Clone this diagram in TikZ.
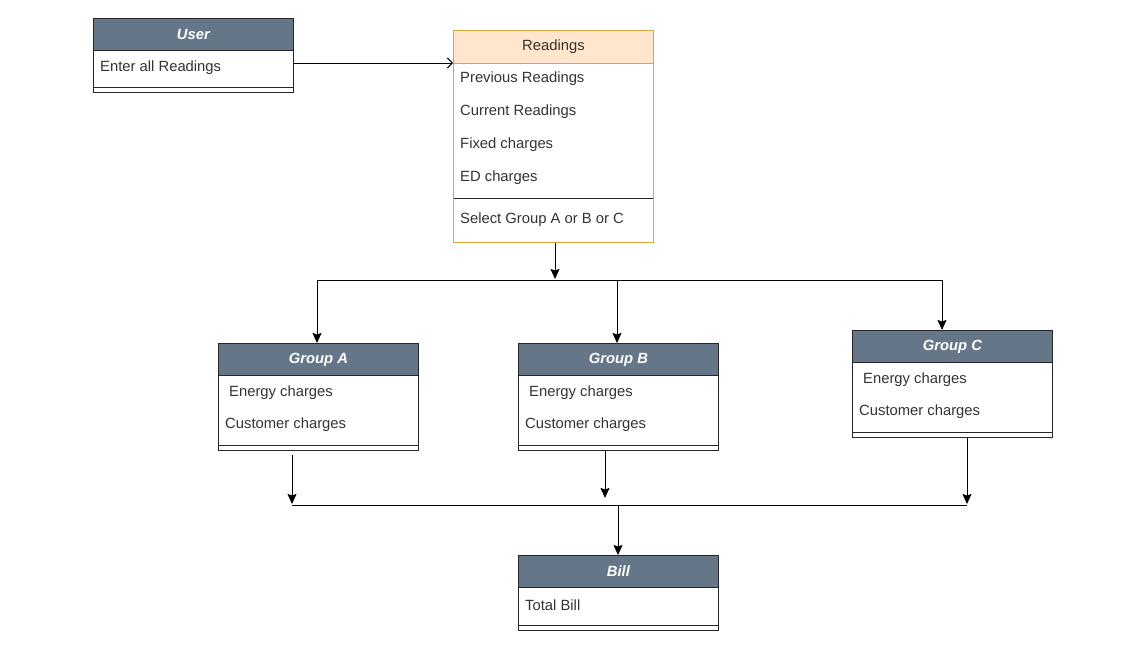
\documentclass[tikz,border=0pt]{standalone}
\usepackage{fontspec}
\setmainfont{Liberation Sans}
\usetikzlibrary{arrows.meta}
\definecolor{hdrc}{HTML}{647687}
\definecolor{orfill}{HTML}{FFE6CC}
\definecolor{ordraw}{HTML}{DAA63C}
\definecolor{txt}{HTML}{333333}
\tikzset{
  box/.style={draw=black!85, fill=white, minimum width=200pt, inner sep=0pt, anchor=north west, line width=0.9pt},
  hdr/.style={draw=black!85, fill=hdrc, minimum width=200pt, minimum height=32pt, inner sep=0pt, anchor=north west, line width=0.9pt, text=white, font=\bfseries\itshape\fontsize{14.8}{17}\selectfont},
  rowtxt/.style={anchor=west, inner sep=0pt, font=\fontsize{14.8}{17}\selectfont, text=txt},
  sepline/.style={draw=black!85, line width=0.9pt},
  conn/.style={-{Stealth[length=10pt,width=9pt,inset=1.5pt]}, line width=0.9pt, draw=black},
  plain/.style={line width=0.9pt, draw=black},
  openarr/.style={-{Straight Barb[length=5pt,width=10pt]}, line width=0.9pt, draw=black},
}
\begin{document}
\begin{tikzpicture}[x=1pt,y=-1pt]
\useasboundingbox[fill=white] (0,0) rectangle (1137,647);

% User
\node[box, minimum height=74pt] (user) at (93,18) {};
\node[hdr] (userh) at (93,18) {User};
\node[rowtxt] (user1) at (100,68) {Enter all Readings};
\draw[sepline] (user.west |- 0,87) -- (user.east |- 0,87);

% Readings
\node[box, draw=ordraw, minimum height=212pt] (read) at (453,30) {};
\node[hdr, draw=ordraw, fill=orfill, text=txt, font=\fontsize{14.8}{17}\selectfont, minimum height=33pt] (readh) at (453,30) {Readings};
\node[rowtxt] (r1) at (460,79) {Previous Readings};
\node[rowtxt] (r2) at (460,112) {Current Readings};
\node[rowtxt] (r3) at (460,145) {Fixed charges};
\node[rowtxt] (r4) at (460,178) {ED charges};
\draw[sepline] ([xshift=0.5pt]read.west |- 0,198) -- ([xshift=-0.5pt]read.east |- 0,198);
\node[rowtxt] (r5) at (460,220) {Select Group A or B or C};

% Group A
\node[box, minimum height=107pt] (ga) at (218,343) {};
\node[hdr] (gah) at (218,343) {Group A};
\node[rowtxt] (ga1) at (229,393) {Energy charges};
\node[rowtxt] (ga2) at (225,425) {Customer charges};
\draw[sepline] (ga.west |- 0,445) -- (ga.east |- 0,445);

% Group B
\node[box, minimum height=107pt] (gb) at (518,343) {};
\node[hdr] (gbh) at (518,343) {Group B};
\node[rowtxt] (gb1) at (529,393) {Energy charges};
\node[rowtxt] (gb2) at (525,425) {Customer charges};
\draw[sepline] (gb.west |- 0,445) -- (gb.east |- 0,445);

% Group C
\node[box, minimum height=107pt] (gc) at (852,330) {};
\node[hdr] (gch) at (852,330) {Group C};
\node[rowtxt] (gc1) at (863,380) {Energy charges};
\node[rowtxt] (gc2) at (859,412) {Customer charges};
\draw[sepline] (gc.west |- 0,432) -- (gc.east |- 0,432);

% Bill
\node[box, minimum height=75pt] (bill) at (518,555) {};
\node[hdr] (billh) at (518,555) {Bill};
\node[rowtxt] (bill1) at (525,605) {Total Bill};
\draw[sepline] (bill.west |- 0,625) -- (bill.east |- 0,625);

% connectors
\draw[openarr] (user.east |- 0,63) -- (read.west |- 0,63);

\coordinate (splitL) at (317,280);
\coordinate (splitM) at (617,280);
\coordinate (splitR) at (942,280);
\coordinate (splitIn) at (555,279);
\draw[conn] (read.south -| splitIn) -- (splitIn);
\draw[plain] (splitL) -- (splitR);
\draw[conn] (splitL) -- (splitL |- ga.north);
\draw[conn] (splitM) -- (splitM |- gb.north);
\draw[conn] (splitR) -- (splitR |- gc.north);

\coordinate (aS) at (292,455);
\coordinate (aE) at (292,504);
\coordinate (bE) at (605,498);
\coordinate (cE) at (967,504);
\coordinate (joinL) at (292,505);
\coordinate (joinR) at (967,505);
\coordinate (joinM) at (618,505);
\draw[conn] (aS) -- (aE);
\draw[conn] (gb.south -| bE) -- (bE);
\draw[conn] (gc.south -| cE) -- (cE);
\draw[plain] (joinL) -- (joinR);
\draw[conn] (joinM) -- (joinM |- bill.north);
\end{tikzpicture}
\end{document}
